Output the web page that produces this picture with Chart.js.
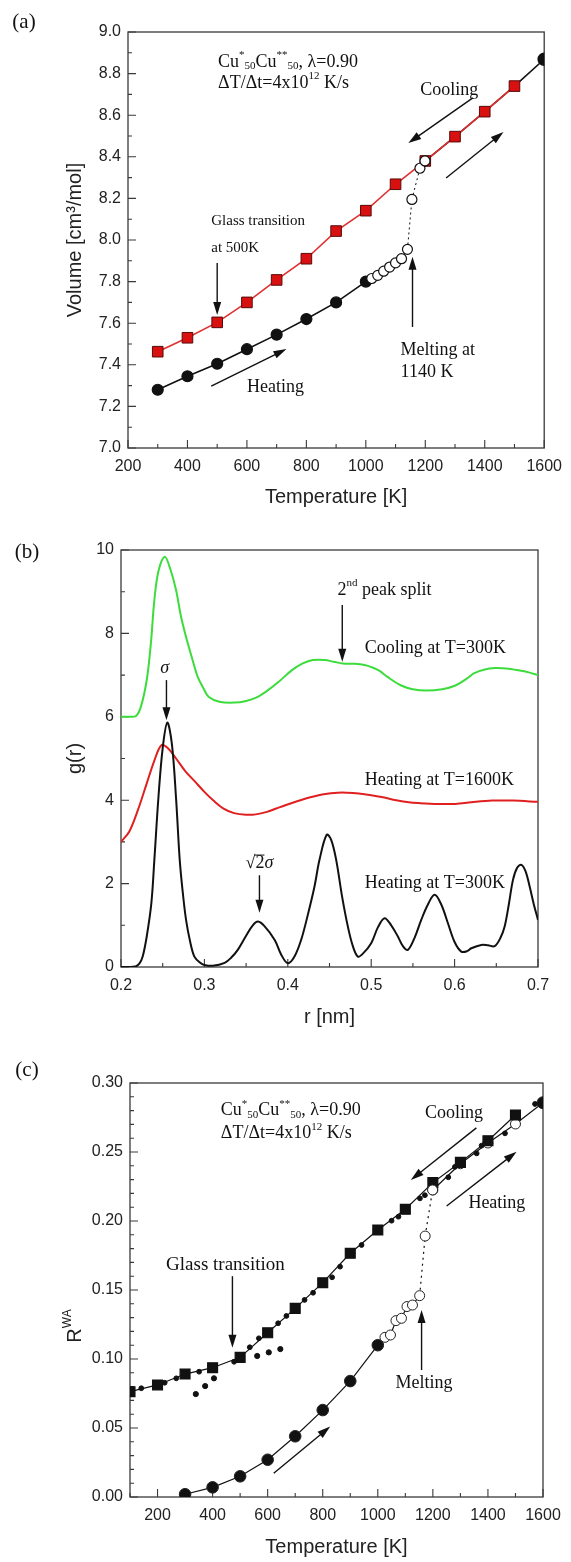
<!DOCTYPE html>
<html>
<head>
<meta charset="utf-8">
<script src="https://cdn.jsdelivr.net/npm/chart.js@4.4.1/dist/chart.umd.min.js"></script>
<style>
  html, body { margin: 0; padding: 0; background: #fff; }
  body { width: 571px; height: 1562px; position: relative; overflow: hidden; }
  canvas { position: absolute; left: 0; }
</style>
</head>
<body>
<canvas id="chartA" width="571" height="525" style="top:0px"></canvas>
<canvas id="chartB" width="571" height="510" style="top:525px"></canvas>
<canvas id="chartC" width="571" height="527" style="top:1035px"></canvas>
<script>
// ===== (a) 体積 - 温度 =====
var tempTicksA = [200, 400, 600, 800, 1000, 1200, 1400, 1600];
var volTicksA = [7.0, 7.2, 7.4, 7.6, 7.8, 8.0, 8.2, 8.4, 8.6, 8.8, 9.0];
// 昇温 (黒丸 → 白丸 → 融解)
var heatTempA = [300, 400, 500, 600, 700, 800, 900, 1000, 1020, 1040, 1060, 1080, 1100, 1120, 1140, 1155, 1182, 1199];
var heatVolA = [7.28, 7.345, 7.405, 7.475, 7.545, 7.62, 7.70, 7.80, 7.815, 7.83, 7.85, 7.87, 7.89, 7.91, 7.955, 8.195, 8.345, 8.38];
// 液体側の昇温
var liqTempA = [1200, 1300, 1400, 1500, 1600];
var liqVolA = [8.38, 8.497, 8.617, 8.740, 8.869];
// 冷却 (赤四角)
var coolTempA = [300, 400, 500, 600, 700, 800, 900, 1000, 1100, 1200, 1300, 1400, 1500];
var coolVolA = [7.463, 7.530, 7.604, 7.70, 7.808, 7.91, 8.043, 8.141, 8.268, 8.38, 8.497, 8.617, 8.740];
var meltA = 1140;

// ===== (b) g(r) =====
var rTicksB = [0.2, 0.3, 0.4, 0.5, 0.6, 0.7];
var gTicksB = [0, 2, 4, 6, 8, 10];
var rCoolB = [0.200, 0.210, 0.218, 0.224, 0.231, 0.236, 0.240, 0.245, 0.2525, 0.259, 0.266, 0.272, 0.279, 0.286, 0.292, 0.299, 0.305, 0.318, 0.336, 0.350, 0.362, 0.375, 0.388, 0.405, 0.418, 0.430, 0.444, 0.455, 0.466, 0.480, 0.492, 0.503, 0.510, 0.520, 0.536, 0.550, 0.566, 0.585, 0.601, 0.615, 0.623, 0.635, 0.649, 0.662, 0.675, 0.690, 0.700];
var gCoolB = [6.00, 6.00, 6.02, 6.25, 6.9, 7.8, 8.8, 9.5, 9.84, 9.55, 9.04, 8.4, 7.84, 7.35, 6.96, 6.68, 6.48, 6.36, 6.34, 6.38, 6.46, 6.62, 6.82, 7.12, 7.28, 7.36, 7.36, 7.32, 7.28, 7.27, 7.24, 7.17, 7.10, 6.95, 6.75, 6.66, 6.63, 6.66, 6.75, 6.92, 7.04, 7.13, 7.17, 7.16, 7.12, 7.06, 7.00];
var rHot1600B = [0.200, 0.210, 0.220, 0.230, 0.240, 0.2484, 0.256, 0.266, 0.277, 0.2885, 0.300, 0.3115, 0.323, 0.3355, 0.350, 0.3617, 0.375, 0.386, 0.397, 0.412, 0.427, 0.445, 0.460, 0.471, 0.485, 0.500, 0.514, 0.530, 0.545, 0.558, 0.580, 0.601, 0.620, 0.645, 0.670, 0.700];
var gHot1600B = [3.00, 3.25, 3.75, 4.35, 4.95, 5.32, 5.25, 5.0, 4.7, 4.45, 4.2, 3.98, 3.8, 3.69, 3.65, 3.66, 3.72, 3.80, 3.88, 3.98, 4.07, 4.15, 4.18, 4.18, 4.16, 4.12, 4.07, 4.0, 3.95, 3.93, 3.91, 3.91, 3.95, 3.99, 3.99, 3.96];
var rHot300B = [0.200, 0.210, 0.217, 0.222, 0.226, 0.231, 0.2364, 0.240, 0.245, 0.250, 0.2555, 0.261, 0.266, 0.2704, 0.274, 0.278, 0.283, 0.288, 0.295, 0.300, 0.310, 0.3243, 0.332, 0.340, 0.350, 0.358, 0.3643, 0.372, 0.3843, 0.392, 0.400, 0.408, 0.416, 0.424, 0.432, 0.438, 0.4466, 0.452, 0.458, 0.465, 0.472, 0.478, 0.484, 0.490, 0.500, 0.508, 0.516, 0.524, 0.532, 0.538, 0.544, 0.552, 0.560, 0.568, 0.576, 0.584, 0.592, 0.600, 0.608, 0.615, 0.620, 0.632, 0.640, 0.648, 0.655, 0.660, 0.665, 0.670, 0.675, 0.680, 0.685, 0.690, 0.695, 0.700];
var gHot300B = [0.0, 0.0, 0.01, 0.08, 0.25, 0.75, 1.53, 2.57, 4.1, 5.25, 5.86, 5.35, 4.05, 2.57, 1.8, 1.13, 0.6, 0.25, 0.1, 0.05, 0.03, 0.1, 0.22, 0.41, 0.75, 1.0, 1.09, 0.98, 0.65, 0.3, 0.09, 0.25, 0.65, 1.25, 1.93, 2.57, 3.17, 3.05, 2.57, 1.7, 0.97, 0.5, 0.25, 0.32, 0.57, 0.95, 1.17, 1.0, 0.73, 0.5, 0.41, 0.7, 1.13, 1.5, 1.73, 1.5, 1.05, 0.6, 0.37, 0.38, 0.45, 0.53, 0.52, 0.5, 0.7, 0.97, 1.5, 2.09, 2.38, 2.45, 2.3, 1.93, 1.5, 1.13];

// ===== (c) R^WA - 温度 =====
var tempTicksC = [200, 400, 600, 800, 1000, 1200, 1400, 1600];
var rwaTicksC = [0.00, 0.05, 0.10, 0.15, 0.20, 0.25, 0.30];
var heatTempC = [300, 400, 500, 600, 700, 800, 900, 1000, 1026, 1046, 1066, 1086, 1106, 1126, 1152, 1172, 1199];
var heatRC = [0.002, 0.007, 0.015, 0.027, 0.044, 0.063, 0.084, 0.110, 0.1157, 0.1174, 0.1278, 0.1295, 0.138, 0.1391, 0.1459, 0.1891, 0.2225];
var liqTempC = [1200, 1300, 1400, 1500, 1600];
var liqRC = [0.2225, 0.2415, 0.2565, 0.2703, 0.2857];
var coolTempC = [100, 200, 300, 400, 500, 600, 700, 800, 900, 1000, 1100, 1200, 1300, 1400, 1500];
var coolRC = [0.0763, 0.0812, 0.0891, 0.0937, 0.1012, 0.119, 0.1367, 0.1553, 0.1766, 0.1935, 0.2085, 0.2278, 0.2425, 0.2582, 0.2768];
// 細かい点 (冷却)
var fineTempC = [141, 226, 268, 351, 478, 535, 568, 638, 668, 734, 765, 834, 863, 941, 1050, 1075, 1153, 1171, 1256, 1280, 1359, 1377, 1462, 1571];
var fineRC = [0.0788, 0.0828, 0.086, 0.0908, 0.098, 0.1085, 0.115, 0.1259, 0.1312, 0.1428, 0.148, 0.1592, 0.1669, 0.1826, 0.2002, 0.2031, 0.2164, 0.2187, 0.2317, 0.2392, 0.249, 0.2546, 0.2635, 0.2848];
// ガラス側の外挿点
var lowTempC = [339, 373, 405, 562, 604, 646];
var lowRC = [0.0746, 0.0804, 0.086, 0.1022, 0.1048, 0.1072];
var meltC = 1152;

var sans = '"Liberation Sans", Arial, sans-serif';
var serif = '"Liberation Serif", "Times New Roman", serif';
Chart.defaults.font.family = sans;

function toXY(xs, ys) {
    return xs.map(function(x, i) { return { x: x, y: ys[i] }; });
}

function richFont(kind, size, family) {
    var s = (kind === 'sup' || kind === 'sub') ? Math.round(size * 0.62) : size;
    return (kind === 'it' ? 'italic ' : '') + s + 'px ' + (family || serif);
}

// 上付き・下付きを含むテキスト
function drawRich(ctx, x, y, parts, size, align, family) {
    var widths = parts.map(function(p) {
        ctx.font = richFont(p[1], size, family);
        return ctx.measureText(p[0]).width;
    });
    var total = widths.reduce(function(a, b) { return a + b; }, 0);
    var cx = align === 'center' ? x - total / 2 : x;
    ctx.textAlign = 'left';
    ctx.textBaseline = 'middle';
    parts.forEach(function(p, i) {
        ctx.font = richFont(p[1], size, family);
        var dy = p[1] === 'sup' ? -size * 0.36 : (p[1] === 'sub' ? size * 0.24 : 0);
        ctx.fillText(p[0], cx, y + dy);
        if (p[1] === 'over') {
            ctx.beginPath();
            ctx.moveTo(cx - 1, y - size * 0.45);
            ctx.lineTo(cx + widths[i], y - size * 0.45);
            ctx.lineWidth = 1;
            ctx.stroke();
        }
        cx += widths[i];
    });
}

function drawArrow(ctx, x1, y1, x2, y2) {
    var a = Math.atan2(y2 - y1, x2 - x1), len = 13, half = 4;
    var c = Math.cos(a), s = Math.sin(a);
    ctx.beginPath();
    ctx.moveTo(x1, y1);
    ctx.lineTo(x2 - c * len * 0.8, y2 - s * len * 0.8);
    ctx.stroke();
    ctx.beginPath();
    ctx.moveTo(x2, y2);
    ctx.lineTo(x2 - c * len + s * half, y2 - s * len - c * half);
    ctx.lineTo(x2 - c * len - s * half, y2 - s * len + c * half);
    ctx.closePath();
    ctx.fill();
}

function tickList(min, max, step) {
    var n = Math.round((max - min) / step), out = [];
    for (var i = 0; i <= n; i++) out.push(min + i * step);
    return out;
}

// 枠・内向き目盛り・注釈を描くプラグイン
var figurePlugin = {
    id: 'figure',
    beforeDatasetsDraw: function(chart, args, opts) {
        var ctx = chart.ctx, area = chart.chartArea;
        var xs = chart.scales.x, ys = chart.scales.y;
        ctx.save();
        ctx.strokeStyle = '#3a3a3a';
        ctx.lineWidth = 1.3;
        ctx.strokeRect(area.left, area.top, area.right - area.left, area.bottom - area.top);
        ctx.lineWidth = 1.1;
        ctx.beginPath();
        tickList(xs.min, xs.max, opts.minorX).forEach(function(v) {
            var major = xs.ticks.some(function(t) { return Math.abs(t.value - v) < 1e-6; });
            var px = xs.getPixelForValue(v);
            ctx.moveTo(px, area.bottom);
            ctx.lineTo(px, area.bottom - (major ? 8 : 4));
        });
        tickList(ys.min, ys.max, opts.minorY).forEach(function(v) {
            var major = ys.ticks.some(function(t) { return Math.abs(t.value - v) < 1e-6; });
            var py = ys.getPixelForValue(v);
            ctx.moveTo(area.left, py);
            ctx.lineTo(area.left + (major ? 8 : 4), py);
        });
        ctx.stroke();
        ctx.restore();
    },
    afterDatasetsDraw: function(chart, args, opts) {
        var ctx = chart.ctx;
        var xs = chart.scales.x, ys = chart.scales.y;
        ctx.save();
        ctx.fillStyle = '#111';
        ctx.strokeStyle = '#111';
        // パネル記号
        ctx.font = '21px ' + serif;
        ctx.textAlign = 'center';
        ctx.textBaseline = 'middle';
        ctx.fillText(opts.label.text, opts.label.x, opts.label.y);
        // 注釈テキスト
        (opts.notes || []).forEach(function(n) {
            drawRich(ctx, xs.getPixelForValue(n.at[0]), ys.getPixelForValue(n.at[1]), n.parts, n.size, n.align);
        });
        // 矢印
        ctx.lineWidth = 1.4;
        (opts.arrows || []).forEach(function(a) {
            drawArrow(ctx, xs.getPixelForValue(a.from[0]), ys.getPixelForValue(a.from[1]),
                xs.getPixelForValue(a.to[0]), ys.getPixelForValue(a.to[1]));
        });
        // 縦軸タイトル (上付きあり)
        if (opts.yTitle) {
            ctx.translate(opts.yTitle.x, opts.yTitle.y);
            ctx.rotate(-Math.PI / 2);
            ctx.fillStyle = '#222';
            drawRich(ctx, 0, 0, opts.yTitle.parts, 20, 'center', sans);
        }
        ctx.restore();
    }
};

function xAxis(min, max, ticks, digits, title, height, titlePad) {
    return {
        type: 'linear', min: min, max: max,
        afterBuildTicks: function(s) { s.ticks = ticks.map(function(v) { return { value: v }; }); },
        afterFit: function(s) { s.height = height; },
        ticks: { autoSkip: false, maxRotation: 0, padding: 9, color: '#222', font: { size: 16 },
            callback: function(v) { return Number(v).toFixed(digits); } },
        grid: { display: false, drawTicks: false },
        border: { display: false },
        title: { display: true, text: title, color: '#222', font: { size: 20 }, padding: { top: 0, bottom: titlePad } }
    };
}

function yAxis(min, max, ticks, digits, title, width, titlePad) {
    return {
        type: 'linear', min: min, max: max,
        afterBuildTicks: function(s) { s.ticks = ticks.map(function(v) { return { value: v }; }); },
        afterFit: function(s) { s.width = width; },
        ticks: { autoSkip: false, padding: 7, color: '#222', font: { size: 16 },
            callback: function(v) { return Number(v).toFixed(digits); } },
        grid: { display: false, drawTicks: false },
        border: { display: false },
        title: { display: !!title, text: title, color: '#222', font: { size: 20 }, padding: { top: titlePad, bottom: 0 } }
    };
}

function baseOptions(pad, scales, fig) {
    return {
        responsive: false,
        devicePixelRatio: 1,
        animation: false,
        layout: { padding: pad },
        plugins: { legend: { display: false }, tooltip: { enabled: false }, figure: fig },
        scales: scales
    };
}

var cuParts = [['Cu', ''], ['*', 'sup'], ['50', 'sub'], ['Cu', ''], ['**', 'sup'], ['50', 'sub'], [', λ=0.90', '']];
var rateParts = [['ΔT/Δt=4x10', ''], ['12', 'sup'], [' K/s', '']];

// ---- (a) ----
new Chart(document.getElementById('chartA'), {
    type: 'line',
    data: {
        datasets: [{
            data: toXY(heatTempA, heatVolA),
            borderColor: '#111', borderWidth: 1.6,
            pointRadius: function(c) { return c.parsed && c.parsed.x > 1000 ? 5 : 5.5; },
            pointBackgroundColor: function(c) { return c.parsed && c.parsed.x > 1000 ? '#fff' : '#111'; },
            pointBorderColor: '#111', pointBorderWidth: 1.2,
            segment: { borderDash: function(c) { return c.p0.parsed.x >= meltA ? [2, 3] : undefined; },
                borderWidth: function(c) { return c.p0.parsed.x >= meltA ? 1 : undefined; } }
        }, {
            data: toXY(coolTempA, coolVolA),
            borderColor: '#e23030', borderWidth: 1.6,
            pointStyle: 'rect', pointRadius: 7.5,
            pointBackgroundColor: '#d81010', pointBorderColor: '#5a0a0a', pointBorderWidth: 1
        }, {
            data: toXY(liqTempA, liqVolA),
            borderColor: '#111', borderWidth: 1.6,
            pointRadius: function(c) { return c.dataIndex === liqTempA.length - 1 ? 6 : 0; },
            pointBackgroundColor: '#111', pointBorderColor: '#111'
        }]
    },
    options: baseOptions({ top: 32, right: 24, left: 0, bottom: 0 }, {
        x: xAxis(200, 1600, tempTicksA, 0, 'Temperature [K]', 77, 16),
        y: yAxis(7, 9, volTicksA, 1, 'Volume [cm³/mol]', 128, 63)
    }, {
        minorX: 100, minorY: 0.1,
        label: { text: '(a)', x: 24, y: 22 },
        notes: [
            { at: [503, 8.856], parts: cuParts, size: 18 },
            { at: [503, 8.755], parts: rateParts, size: 18 },
            { at: [1183, 8.721], parts: [['Cooling', '']], size: 18 },
            { at: [480, 8.091], parts: [['Glass transition', '']], size: 15 },
            { at: [480, 7.962], parts: [['at 500K', '']], size: 15 },
            { at: [600, 7.293], parts: [['Heating', '']], size: 18 },
            { at: [1117, 7.471], parts: [['Melting at', '']], size: 18 },
            { at: [1117, 7.365], parts: [['1140 K', '']], size: 18 }
        ],
        arrows: [
            { from: [1360, 8.683], to: [1143, 8.466] },
            { from: [1270, 8.298], to: [1463, 8.519] },
            { from: [500, 7.889], to: [500, 7.64] },
            { from: [480, 7.298], to: [733, 7.476] },
            { from: [1157, 7.582], to: [1157, 7.92] }
        ]
    }),
    plugins: [figurePlugin]
});

// ---- (b) ----
new Chart(document.getElementById('chartB'), {
    type: 'line',
    data: {
        datasets: [{
            data: toXY(rHot300B, gHot300B),
            borderColor: '#111', borderWidth: 2, pointRadius: 0, tension: 0.35
        }, {
            data: toXY(rHot1600B, gHot1600B),
            borderColor: '#e02020', borderWidth: 2, pointRadius: 0, tension: 0.35
        }, {
            data: toXY(rCoolB, gCoolB),
            borderColor: '#3ddc3d', borderWidth: 2, pointRadius: 0, tension: 0.35
        }]
    },
    options: baseOptions({ top: 25, right: 33, left: 0, bottom: 0 }, {
        x: xAxis(0.2, 0.7, rTicksB, 1, 'r [nm]', 68, 6),
        y: yAxis(0, 10, gTicksB, 0, 'g(r)', 121, 63)
    }, {
        minorX: 0.05, minorY: 1,
        label: { text: '(b)', x: 27, y: 27 },
        notes: [
            { at: [0.4597, 9.04], parts: [['2', ''], ['nd', 'sup'], [' peak split', '']], size: 18 },
            { at: [0.4924, 7.65], parts: [['Cooling at T=300K', '']], size: 18 },
            { at: [0.2525, 7.17], parts: [['σ', 'it']], size: 18, align: 'center' },
            { at: [0.4924, 4.48], parts: [['Heating at T=1600K', '']], size: 18 },
            { at: [0.4924, 2.0], parts: [['Heating at T=300K', '']], size: 18 },
            { at: [0.366, 2.49], parts: [['√', ''], ['2', 'over'], ['σ', 'it']], size: 18, align: 'center' }
        ],
        arrows: [
            { from: [0.4653, 8.68], to: [0.4653, 7.32] },
            { from: [0.2545, 6.88], to: [0.2545, 5.92] },
            { from: [0.366, 2.2], to: [0.366, 1.3] }
        ]
    }),
    plugins: [figurePlugin]
});

// ---- (c) ----
new Chart(document.getElementById('chartC'), {
    type: 'line',
    data: {
        datasets: [{
            data: toXY(fineTempC, fineRC),
            showLine: false, pointRadius: 2.4, pointBackgroundColor: '#111', pointBorderColor: '#111'
        }, {
            data: toXY(lowTempC, lowRC),
            showLine: false, pointRadius: 2.6, pointBackgroundColor: '#111', pointBorderColor: '#111'
        }, {
            data: toXY(heatTempC, heatRC),
            borderColor: '#111', borderWidth: 1.2,
            pointRadius: function(c) { return c.parsed && c.parsed.x > 1000 ? 5 : 5.8; },
            pointBackgroundColor: function(c) { return c.parsed && c.parsed.x > 1000 ? '#fff' : '#111'; },
            pointBorderColor: '#222', pointBorderWidth: 1,
            segment: { borderDash: function(c) { return c.p0.parsed.x >= meltC ? [2, 4] : undefined; } }
        }, {
            data: toXY(coolTempC, coolRC),
            borderColor: '#111', borderWidth: 1.2,
            pointStyle: 'rect', pointRadius: 7, pointBackgroundColor: '#111', pointBorderColor: '#111'
        }, {
            data: toXY(liqTempC, liqRC),
            borderColor: '#111', borderWidth: 1.2,
            pointRadius: function(c) { return c.dataIndex === liqTempC.length - 1 ? 6 : 5; },
            pointBackgroundColor: function(c) { return c.dataIndex === liqTempC.length - 1 ? '#111' : '#fff'; },
            pointBorderColor: '#222', pointBorderWidth: 1
        }]
    },
    options: baseOptions({ top: 48, right: 28, left: 0, bottom: 0 }, {
        x: xAxis(100, 1600, tempTicksC, 0, 'Temperature [K]', 65, 3),
        y: yAxis(0, 0.3, rwaTicksC, 2, '', 130, 0)
    }, {
        minorX: 100, minorY: 0.01,
        label: { text: '(c)', x: 27, y: 35 },
        yTitle: { x: 75, y: 291, parts: [['R', ''], ['WA', 'sup']] },
        notes: [
            { at: [430, 0.280], parts: cuParts, size: 18 },
            { at: [430, 0.2635], parts: rateParts, size: 18 },
            { at: [1171, 0.278], parts: [['Cooling', '']], size: 18 },
            { at: [1329, 0.2128], parts: [['Heating', '']], size: 18 },
            { at: [231, 0.1681], parts: [['Glass transition', '']], size: 19 },
            { at: [1168, 0.0824], parts: [['Melting', '']], size: 18, align: 'center' }
        ],
        arrows: [
            { from: [1358, 0.2675], to: [1120, 0.2297] },
            { from: [1250, 0.2109], to: [1504, 0.2502] },
            { from: [472, 0.1600], to: [472, 0.1082] },
            { from: [1159, 0.092], to: [1159, 0.1355] },
            { from: [622, 0.0172], to: [827, 0.051] }
        ]
    }),
    plugins: [figurePlugin]
});
</script>
</body>
</html>
